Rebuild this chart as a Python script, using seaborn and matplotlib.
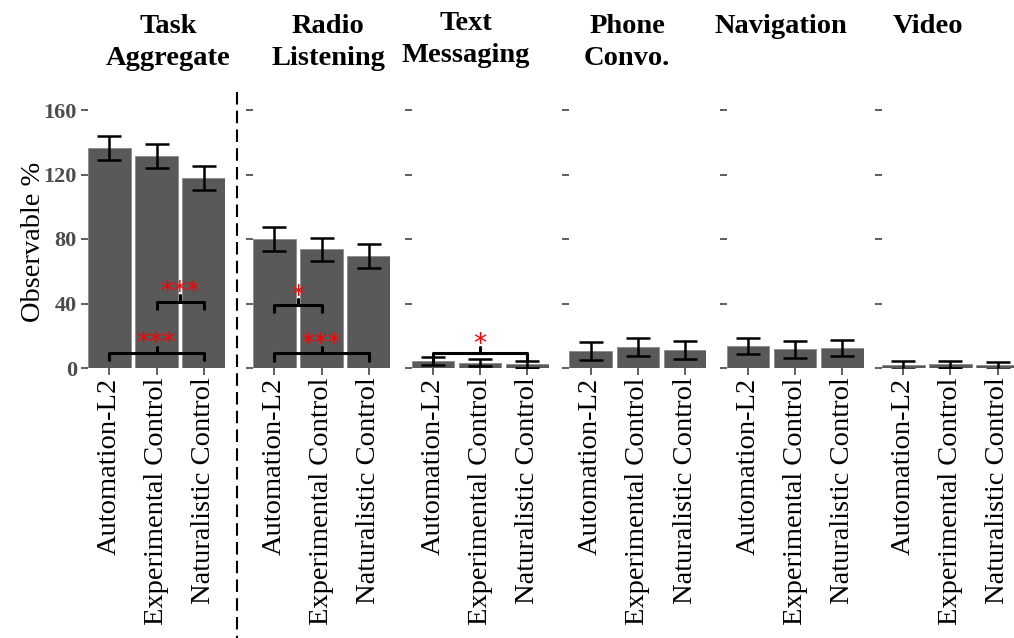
import numpy as np
import pandas as pd
import matplotlib
matplotlib.use("Agg")
import matplotlib.pyplot as plt
from matplotlib.lines import Line2D
import seaborn as sns

# ---------------- data ----------------
tasks = ["Task\nAggregate", "Radio\nListening", "Text\nMessaging",
         "Phone\nConvo.", "Navigation", "Video"]
groups = ["Automation-L2", "Experimental Control", "Naturalistic Control"]

task_agg_means = [136.5, 131.5, 118.0]
task_agg_err = [7.2, 7.5, 7.4]
radio_means = [80.0, 73.6, 69.5]
radio_err = [7.7, 7.3, 7.7]
text_means = [4.2, 3.4, 2.4]
text_err = [2.6, 2.0, 2.2]
phone_means = [10.5, 13.2, 11.2]
phone_err = [5.4, 5.5, 5.4]
nav_means = [13.6, 11.6, 12.6]
nav_err = [4.9, 5.2, 5.0]
video_means = [1.9, 2.2, 1.6]
video_err = [2.3, 2.2, 2.2]

all_means = [task_agg_means, radio_means, text_means, phone_means, nav_means, video_means]
all_err = [task_agg_err, radio_err, text_err, phone_err, nav_err, video_err]

# significance brackets
sig_panel = [0, 0, 1, 1, 2]
sig_from = [1, 0, 0, 0, 0]
sig_to = [2, 2, 1, 2, 2]
sig_y = [41.0, 9.3, 39.0, 9.0, 9.0]
sig_label = ["***", "***", "*", "***", "*"]

y_ticks = [0, 40, 80, 120, 160]

rows = []
for t, m, e in zip(tasks, all_means, all_err):
    for g, mv, ev in zip(groups, m, e):
        rows.append({"task": t, "group": g, "value": mv, "err": ev})
df = pd.DataFrame(rows)

# ---------------- style ----------------
sns.set_style("white")
plt.rcParams["font.family"] = ["Liberation Serif", "DejaVu Serif"]

W, H = 1014, 638
fig = plt.figure(figsize=(W / 100, H / 100), dpi=100)

panel_left_px = [88, 253, 411.7, 569.3, 726.7, 882]
panel_w_px = 137
zero_px = 368
ymax = 168
px_per_unit = 1.6125
panel_h_px = ymax * px_per_unit

bar_color = "#595959"

for i, t in enumerate(tasks):
    ax = fig.add_axes([panel_left_px[i] / W, (H - zero_px) / H,
                       panel_w_px / W, panel_h_px / H])
    sub = df[df["task"] == t]
    sns.barplot(data=sub, x="group", y="value", order=groups, color=bar_color,
                saturation=1, width=0.9, errorbar=None, ax=ax,
                edgecolor="#8a8a8a", linewidth=0.6)
    xs = np.arange(len(groups))
    ax.errorbar(xs, sub["value"].values, yerr=sub["err"].values, fmt="none",
                ecolor="black", elinewidth=1.8, capsize=8.3, capthick=1.8, zorder=5)
    ax.set_xlim(-0.45, 2.45)
    ax.set_ylim(0, ymax)
    ax.set_yticks(y_ticks)
    for s in ax.spines.values():
        s.set_visible(False)
    ax.set_xlabel("")
    ax.set_ylabel("")
    ax.tick_params(axis="x", length=5, width=1.1, color="#333333", pad=2,
                   labelsize=20.5, labelcolor="black", bottom=True)
    ax.tick_params(axis="y", length=5, width=1.1, color="#333333", pad=3, left=True)
    ax.set_xticks(xs)
    ax.set_xticklabels(groups, rotation=90, ha="center", va="top")
    if i == 0:
        ax.set_yticklabels([str(v) for v in y_ticks], fontsize=16,
                           fontweight="bold", color="#4d4d4d")
        ax.set_ylabel("Observable %", fontsize=20.5, color="black")
        ax.yaxis.set_label_coords(-0.31, 0.465)
    else:
        ax.set_yticklabels([])

    # significance brackets
    for p, a, b, y, lab in zip(sig_panel, sig_from, sig_to, sig_y, sig_label):
        if p != i:
            continue
        xm = (a + b) / 2
        ax.plot([a, a, b, b], [y - 5, y, y, y - 5], color="black", lw=2.2,
                solid_joinstyle="round", solid_capstyle="butt", zorder=6, clip_on=False)
        ax.plot([xm, xm], [y, y + 4], color="black", lw=2.2, zorder=6, clip_on=False)
        ax.text(xm, y + 1.0, lab, color="red", fontsize=19,
                ha="center", va="baseline", family="DejaVu Sans", zorder=7)

# facet titles
title_x_px = [168, 328, 466, 627, 781, 928]
title_top_px = [14, 14, 11, 14, 14, 14]
for t, xp, yp in zip(tasks, title_x_px, title_top_px):
    fig.text(xp / W, 1 - yp / H, t, ha="center", va="top", fontsize=20.5,
             fontweight="bold", linespacing=1.36, color="black")

# dashed separator
fig.add_artist(Line2D([237 / W, 237 / W], [1 - 92 / H, 0], color="black",
                      lw=1.5, linestyle=(0, (6, 3))))

fig.savefig("out.png", dpi=100)
